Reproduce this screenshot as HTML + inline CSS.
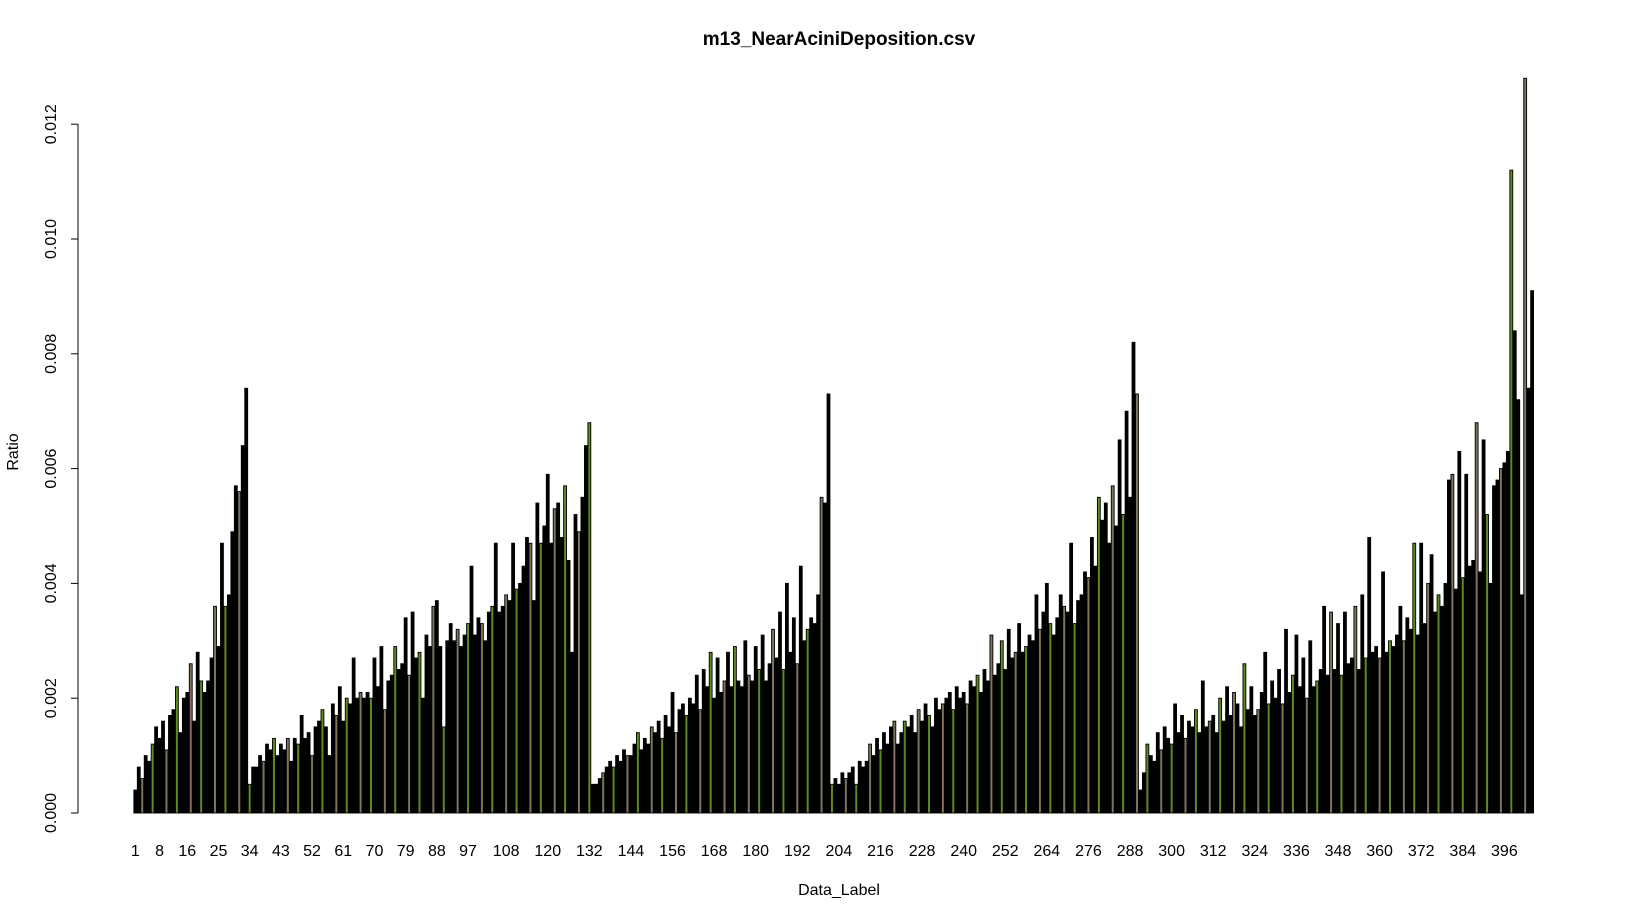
<!DOCTYPE html>
<html><head><meta charset="utf-8"><style>
body{margin:0;background:#fff;}
svg{display:block;font-family:"Liberation Sans",Arial,sans-serif;}
</style></head><body>
<svg id="chart" width="1632" height="918" viewBox="0 0 1632 918">
<text x="839" y="45" text-anchor="middle" font-size="19" font-weight="bold">m13_NearAciniDeposition.csv</text>
<text transform="translate(18,452) rotate(-90)" text-anchor="middle" font-size="16">Ratio</text>
<text x="839" y="895" text-anchor="middle" font-size="16">Data_Label</text>
<g id="yaxis"></g>
<g id="xlabels"></g>
<g id="bars"></g>
</svg>
<script>
const group1 = [4,8,6,10,9,12,15,13,16,11,17,18,22,14,20,21,26,16,28,23,21,23,27,36,29,47,36,38,49,57,56,64,74];
const group2 = [5,8,8,10,9,12,11,13,10,12,11,13,9,13,12,17,13,14,10,15,16,18,15,10,19,17,22,16,20,19,27,20,21,20,21,20,27,22,29,18,23,24,29,25,26,34,24,35,27,28,20,31,29,36,37,29,15,30,33,30,32,29,31,33,43,31,34,33,30,35,36,47,35,36,38,37,47,39,40,43,48,47,37,54,47,50,59,47,53,54,48,57,44,28,52,49,55,64,68];
const group3 = [5,5,6,7,8,9,8,10,9,11,10,10,12,14,11,13,12,15,14,16,13,17,15,21,14,18,19,17,20,19,24,18,25,22,28,20,27,21,23,28,22,29,23,22,30,24,23,29,25,31,23,26,32,27,35,25,40,28,34,26,43,30,32,34,33,38,55,54,73];
const group4 = [5,6,5,7,6,7,8,5,9,8,9,12,10,13,11,14,12,15,16,12,14,16,15,17,14,18,16,19,17,15,20,18,19,20,21,18,22,20,21,19,23,22,24,21,25,23,31,24,26,30,25,32,27,28,33,28,29,31,30,38,32,35,40,33,31,34,38,36,35,47,33,37,38,42,41,48,43,55,51,54,47,57,50,65,52,70,55,82,73];
const group5 = [4,7,12,10,9,14,11,15,13,12,19,14,17,13,16,15,18,14,23,15,16,17,14,20,16,22,17,21,19,15,26,18,22,17,18,21,28,19,23,20,25,19,32,21,24,31,22,27,20,30,22,23,25,36,24,35,25,33,24,35,26,27,36,25,38,27,48,28,29,27,42,28,30,29,31,36,30,34,32,47,31,47,33,40,45,35,38,36,40,58,59,39,63,41,59,43,44,68,42,65,52,40,57,58,60,61,63,112,84,72,38,128,74,91];
const yTicks = [0,0.002,0.004,0.006,0.008,0.010,0.012];
const yTickLabels = ["0.000","0.002","0.004","0.006","0.008","0.010","0.012"];
const xTickLabels = [1,8,16,25,34,43,52,61,70,79,88,97,108,120,132,144,156,168,180,192,204,216,228,240,252,264,276,288,300,312,324,336,348,360,372,384,396];

const values = [].concat(group1,group2,group3,group4,group5).map(v=>v/10000);
const NS='http://www.w3.org/2000/svg';
const Y0=813, PXPER=57400;
function yScale(v){return Y0 - v*PXPER;}
const STEP=3.466, BW=2.89;
function xCenter(i){return 135.3 + (i-1)*STEP;}

const ya=document.getElementById('yaxis');
let ln=document.createElementNS(NS,'line');
ln.setAttribute('x1',78);ln.setAttribute('x2',78);
ln.setAttribute('y1',yScale(yTicks[0]));ln.setAttribute('y2',yScale(yTicks[yTicks.length-1]));
ln.setAttribute('stroke','#000');


ya.appendChild(ln);
yTicks.forEach((t,k)=>{
  const y=yScale(t);
  const tk=document.createElementNS(NS,'line');
  tk.setAttribute('x1',71);tk.setAttribute('x2',78);tk.setAttribute('y1',y);tk.setAttribute('y2',y);
  tk.setAttribute('stroke','#000');
  
  
  ya.appendChild(tk);
  const tx=document.createElementNS(NS,'text');
  tx.setAttribute('transform','translate(56,'+y+') rotate(-90)');
  tx.setAttribute('text-anchor','middle');tx.setAttribute('font-size','16');
  tx.textContent=yTickLabels[k];
  
  
  ya.appendChild(tx);
});

const xl=document.getElementById('xlabels');
xTickLabels.forEach(n=>{
  const tx=document.createElementNS(NS,'text');
  tx.setAttribute('x',xCenter(n));tx.setAttribute('y',856);
  tx.setAttribute('text-anchor','middle');tx.setAttribute('font-size','16');
  tx.textContent=String(n);
  
  
  xl.appendChild(tx);
});

const bg=document.getElementById('bars');
const fills=['#000','#000','#7f7360','#000','#000','#5e8a1e','#000'];
values.forEach((v,i)=>{
  const r=document.createElementNS(NS,'rect');
  const x=xCenter(i+1)-BW/2, y=yScale(v);
  r.setAttribute('x',x.toFixed(2));r.setAttribute('y',y.toFixed(2));
  r.setAttribute('width',BW);r.setAttribute('height',(Y0-y).toFixed(2));
  r.setAttribute('fill',fills[i%fills.length]);
  r.setAttribute('stroke','#000');r.setAttribute('stroke-width','0.9');
  
  
  bg.appendChild(r);
});
</script>
</body></html>
